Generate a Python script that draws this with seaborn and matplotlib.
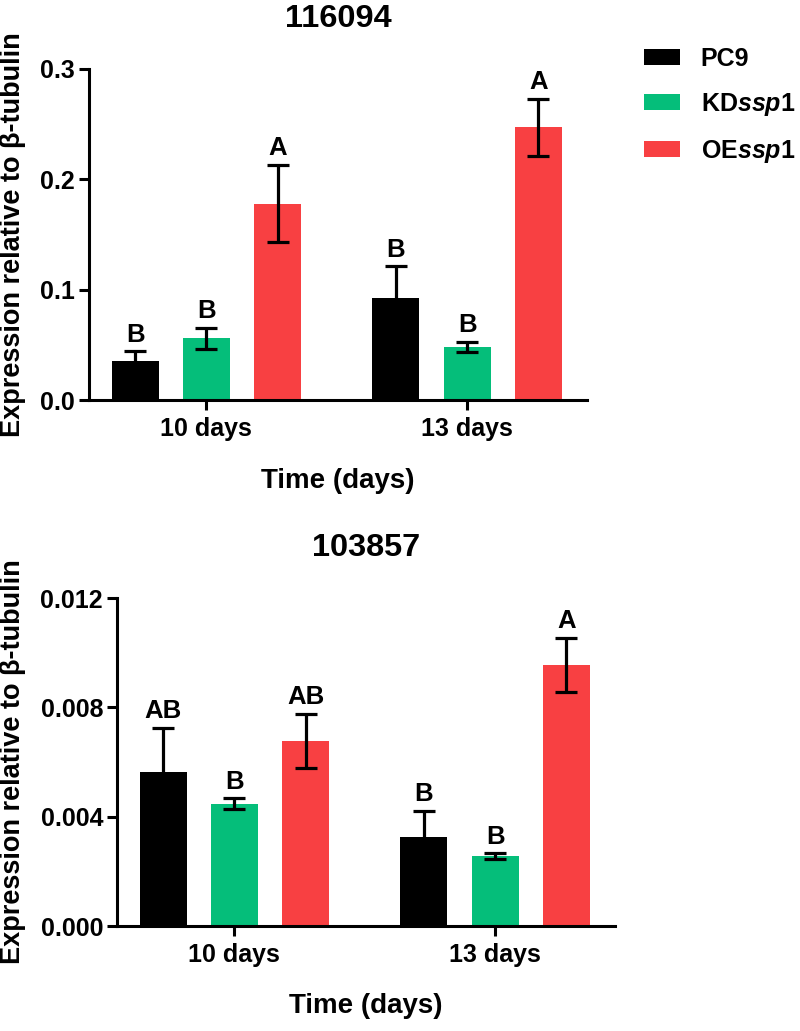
import numpy as np
import pandas as pd
import matplotlib
matplotlib.use("Agg")
import matplotlib.pyplot as plt
from matplotlib.ticker import FormatStrFormatter, MultipleLocator
import seaborn as sns

sns.set_style("ticks")
plt.rcParams['font.family'] = ['Liberation Sans', 'DejaVu Sans']
plt.rcParams['font.weight'] = 'bold'
plt.rcParams['axes.labelweight'] = 'bold'
plt.rcParams['axes.titleweight'] = 'bold'
plt.rcParams['mathtext.fontset'] = 'custom'
plt.rcParams['mathtext.it'] = 'Liberation Sans:italic:bold'
plt.rcParams['mathtext.rm'] = 'Liberation Sans:bold'
for k in ['text.color', 'axes.labelcolor', 'xtick.color', 'ytick.color', 'axes.edgecolor']:
    plt.rcParams[k] = 'black'

# categories
times = ['10 days', '13 days']
groups = ['PC9', 'KD$\\mathit{ssp1}$', 'OE$\\mathit{ssp1}$']
colors = ['#000000', '#05BE7A', '#F84042']

# gene 116094 (mean, sd, letters) per group over times
g1_pc9 = [0.035, 0.092]
g1_kd = [0.056, 0.048]
g1_oe = [0.178, 0.247]
g1_pc9_sd = [0.009, 0.029]
g1_kd_sd = [0.0095, 0.0045]
g1_oe_sd = [0.035, 0.026]
g1_letters = [['B', 'B'], ['B', 'B'], ['A', 'A']]

# gene 103857
g2_pc9 = [0.00564, 0.00326]
g2_kd = [0.00447, 0.00256]
g2_oe = [0.00677, 0.00955]
g2_pc9_sd = [0.0016, 0.00095]
g2_kd_sd = [0.0002, 0.0001]
g2_oe_sd = [0.001, 0.001]
g2_letters = [['AB', 'B'], ['B', 'B'], ['AB', 'A']]


def draw_panel(ax, means, sds, letters, title, ymax, ystep, fmt, ylab_x, legend=False):
    df = pd.DataFrame({
        'time': times * len(groups),
        'group': [g for g in groups for _ in times],
        'value': [v for m in means for v in m],
    })
    sns.barplot(data=df, x='time', y='value', hue='group', order=times, hue_order=groups,
                palette=colors, saturation=1, width=0.82, gap=0.34, errorbar=None,
                linewidth=0, ax=ax, legend=legend, zorder=1)
    # error bars + significance letters on top of the bars
    for cont, sd, lab in zip(ax.containers, sds, letters):
        xs = [p.get_x() + p.get_width() / 2 for p in cont]
        ys = [p.get_height() for p in cont]
        ax.errorbar(xs, ys, yerr=sd, fmt='none', ecolor='black', elinewidth=2.3,
                    capsize=8, capthick=2.3, zorder=3)
        for x, y, s, t in zip(xs, ys, sd, lab):
            ax.annotate(t, (x, y + s), xytext=(0, 7), textcoords='offset points',
                        ha='center', va='baseline', fontsize=18.5, fontweight='bold')

    ax.set_xlim(-0.45, 1.46)
    ax.set_ylim(0, ymax)
    ax.yaxis.set_major_locator(MultipleLocator(ystep))
    ax.yaxis.set_major_formatter(FormatStrFormatter(fmt))
    sns.despine(ax=ax)
    for s in ['left', 'bottom']:
        ax.spines[s].set_linewidth(2.2)
    ax.tick_params(axis='both', width=2.2, length=7, labelsize=18, direction='out')
    ax.tick_params(axis='y', pad=3)
    ax.tick_params(axis='x', pad=5)
    ax.set_title(title, fontsize=23.4, pad=30, fontweight='bold')
    ax.set_xlabel('Time (days)', fontsize=20)
    ax.set_ylabel('Expression relative to β-tubulin', fontsize=19.5)
    ax.xaxis.set_label_coords(0.5, -0.205)
    ax.yaxis.set_label_coords(ylab_x, 0.5)


fig = plt.figure(figsize=(8, 10.31), dpi=100)
ax1 = fig.add_axes([89 / 800, 631 / 1031, 498 / 800, 331 / 1031])
ax2 = fig.add_axes([117 / 800, 105 / 1031, 498 / 800, 328 / 1031])

draw_panel(ax1, [g1_pc9, g1_kd, g1_oe], [g1_pc9_sd, g1_kd_sd, g1_oe_sd], g1_letters,
           '116094', 0.3, 0.1, '%.1f', (26 - 89) / 498, legend=True)
draw_panel(ax2, [g2_pc9, g2_kd, g2_oe], [g2_pc9_sd, g2_kd_sd, g2_oe_sd], g2_letters,
           '103857', 0.012, 0.004, '%.3f', (26 - 117) / 498)

old = ax1.get_legend()
handles = old.legend_handles
labels = [t.get_text() for t in old.get_texts()]
old.remove()
fig.legend(handles, labels, loc='upper left', bbox_to_anchor=(644 / 800, 1 - 47 / 1031),
           frameon=False, fontsize=18, handlelength=1.44, handleheight=0.6,
           handletextpad=0.83, labelspacing=0.8, borderpad=0, borderaxespad=0)

fig.savefig('out.png', dpi=100)
